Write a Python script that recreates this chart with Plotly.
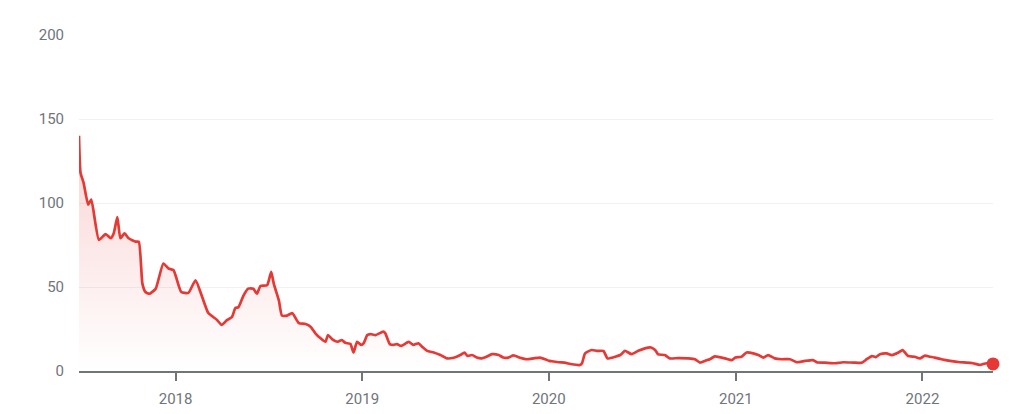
import plotly.graph_objects as go

dates = [
    "2017-06-26", "2017-06-29", "2017-07-05", "2017-07-14", "2017-07-20", "2017-08-04",
    "2017-08-17", "2017-08-27", "2017-09-02", "2017-09-09", "2017-09-15", "2017-09-23",
    "2017-10-01", "2017-10-15", "2017-10-21", "2017-10-28", "2017-11-03", "2017-11-11",
    "2017-11-23", "2017-12-08", "2017-12-18", "2017-12-28", "2018-01-12", "2018-01-26",
    "2018-02-09", "2018-02-22", "2018-03-06", "2018-03-23", "2018-04-01", "2018-04-12",
    "2018-04-21", "2018-04-28", "2018-05-04", "2018-05-14", "2018-05-23", "2018-06-02",
    "2018-06-09", "2018-06-16", "2018-06-29", "2018-07-07", "2018-07-12", "2018-07-22",
    "2018-07-28", "2018-08-07", "2018-08-17", "2018-08-30", "2018-09-12", "2018-09-22",
    "2018-10-01", "2018-10-11", "2018-10-21", "2018-10-26", "2018-11-03", "2018-11-13",
    "2018-11-22", "2018-11-29", "2018-12-09", "2018-12-15", "2018-12-22", "2018-12-30",
    "2019-01-04", "2019-01-11", "2019-01-17", "2019-01-27", "2019-02-11", "2019-02-15",
    "2019-02-24", "2019-03-03", "2019-03-10", "2019-03-18", "2019-04-02", "2019-04-11",
    "2019-04-21", "2019-04-28", "2019-05-08", "2019-05-21", "2019-06-03", "2019-06-16",
    "2019-06-29", "2019-07-12", "2019-07-20", "2019-07-26", "2019-08-04", "2019-08-13",
    "2019-08-23", "2019-09-01", "2019-09-12", "2019-09-25", "2019-10-04", "2019-10-14",
    "2019-10-24", "2019-11-06", "2019-11-19", "2019-12-02", "2019-12-15", "2019-12-25",
    "2020-01-02", "2020-01-07", "2020-01-20", "2020-02-01", "2020-02-15", "2020-03-02",
    "2020-03-06", "2020-03-12", "2020-03-25", "2020-04-04", "2020-04-17", "2020-04-25",
    "2020-05-10", "2020-05-20", "2020-05-29", "2020-06-11", "2020-06-24", "2020-07-07",
    "2020-07-19", "2020-07-27", "2020-08-02", "2020-08-15", "2020-08-25", "2020-09-10",
    "2020-09-30", "2020-10-13", "2020-10-23", "2020-11-02", "2020-11-11", "2020-11-21",
    "2020-12-11", "2020-12-24", "2020-12-31", "2021-01-12", "2021-01-22", "2021-02-04",
    "2021-02-14", "2021-02-24", "2021-03-05", "2021-03-18", "2021-04-01", "2021-04-17",
    "2021-04-30", "2021-05-16", "2021-06-01", "2021-06-08", "2021-06-24", "2021-07-14",
    "2021-07-30", "2021-08-19", "2021-09-04", "2021-09-14", "2021-09-24", "2021-10-02",
    "2021-10-10", "2021-10-23", "2021-11-02", "2021-11-15", "2021-11-23", "2021-12-04",
    "2021-12-17", "2021-12-27", "2022-01-06", "2022-01-16", "2022-01-25", "2022-02-07",
    "2022-02-24", "2022-03-15", "2022-03-28", "2022-04-10", "2022-04-23", "2022-05-06",
    "2022-05-19",
]

values = [
    140.0, 118.0, 112.0, 99.0, 102.0, 78.0,
    81.5, 79.0, 82.0, 91.6, 79.0, 82.0,
    79.0, 77.0, 77.0, 52.0, 47.0, 46.0,
    49.0, 64.0, 61.0, 60.0, 47.0, 46.5,
    54.0, 44.0, 34.5, 30.4, 27.4, 30.4,
    32.0, 37.5, 38.0, 45.0, 49.0, 49.0,
    46.0, 50.6, 51.0, 59.0, 52.0, 42.0,
    33.0, 33.0, 34.5, 28.5, 28.0, 26.4,
    22.6, 19.6, 17.4, 21.4, 19.0, 17.4,
    18.4, 16.8, 16.0, 11.0, 17.4, 15.5,
    16.6, 21.4, 22.0, 21.4, 23.4, 22.6,
    16.0, 15.5, 16.0, 14.9, 17.3, 15.5,
    16.5, 14.5, 12.0, 11.0, 9.5, 7.5,
    7.9, 9.5, 11.0, 9.0, 9.5, 8.0,
    7.5, 8.5, 10.0, 9.5, 8.0, 8.0,
    9.3, 7.9, 7.0, 7.5, 8.0, 7.0,
    6.0, 5.8, 5.2, 5.0, 4.0, 3.6,
    4.6, 10.5, 12.5, 12.0, 11.9, 7.5,
    8.5, 9.5, 12.0, 10.0, 12.0, 13.5,
    14.0, 12.5, 9.9, 9.5, 7.5, 7.7,
    7.5, 7.0, 5.0, 6.1, 7.0, 8.7,
    7.5, 6.5, 8.0, 8.5, 11.0, 10.5,
    9.5, 8.0, 9.5, 7.5, 7.0, 7.0,
    5.2, 6.0, 6.5, 5.2, 5.0, 4.6,
    5.2, 5.0, 4.9, 7.0, 8.9, 8.3,
    10.0, 10.5, 9.5, 11.0, 12.5, 8.9,
    8.5, 7.5, 9.1, 8.5, 8.0, 7.0,
    6.0, 5.2, 5.0, 4.6, 3.6, 4.6,
    4.2,
]

y_ticks = [0, 50, 100, 150, 200]
x_ticks = ["2018-01-01", "2019-01-01", "2020-01-01", "2021-01-01", "2022-01-01"]
x_tick_labels = ["2018", "2019", "2020", "2021", "2022"]

RED = "#e53935"
GREY = "#70757a"

fig = go.Figure()
fig.add_trace(go.Scatter(
    x=dates, y=values, mode="lines",
    line=dict(color=RED, width=2.7, shape="spline", smoothing=0.5),
    fill="tozeroy",
    fillgradient=dict(type="vertical",
                      colorscale=[[0, "rgba(229,57,53,0)"], [1, "rgba(229,57,53,0.22)"]]),
    hoverinfo="skip", showlegend=False,
))
fig.add_trace(go.Scatter(
    x=[dates[-1]], y=[values[-1]], mode="markers",
    marker=dict(color=RED, size=13),
    cliponaxis=False, showlegend=False,
))

fig.update_layout(
    width=1018, height=414,
    margin=dict(l=71, r=33, t=27, b=51),
    paper_bgcolor="white", plot_bgcolor="white",
    font=dict(family="Roboto, Arial, sans-serif", color=GREY),
    xaxis=dict(
        type="date", range=[dates[0], dates[-1]],
        tickmode="array", tickvals=x_ticks, ticktext=x_tick_labels,
        showgrid=False, zeroline=False,
        showline=True, linecolor=GREY, linewidth=2,
        ticks="outside", ticklen=8, tickwidth=2, tickcolor=GREY,
        ticklabelstandoff=5,
        tickfont=dict(size=15, color=GREY),
    ),
    yaxis=dict(
        range=[0, 200], tickmode="array", tickvals=y_ticks,
        showgrid=True, gridcolor="#f1f1f1", gridwidth=1,
        zeroline=False, showline=False,
        ticks="", ticklabelstandoff=14,
        tickfont=dict(size=15, color=GREY),
    ),
)

fig.write_html("out.html")
